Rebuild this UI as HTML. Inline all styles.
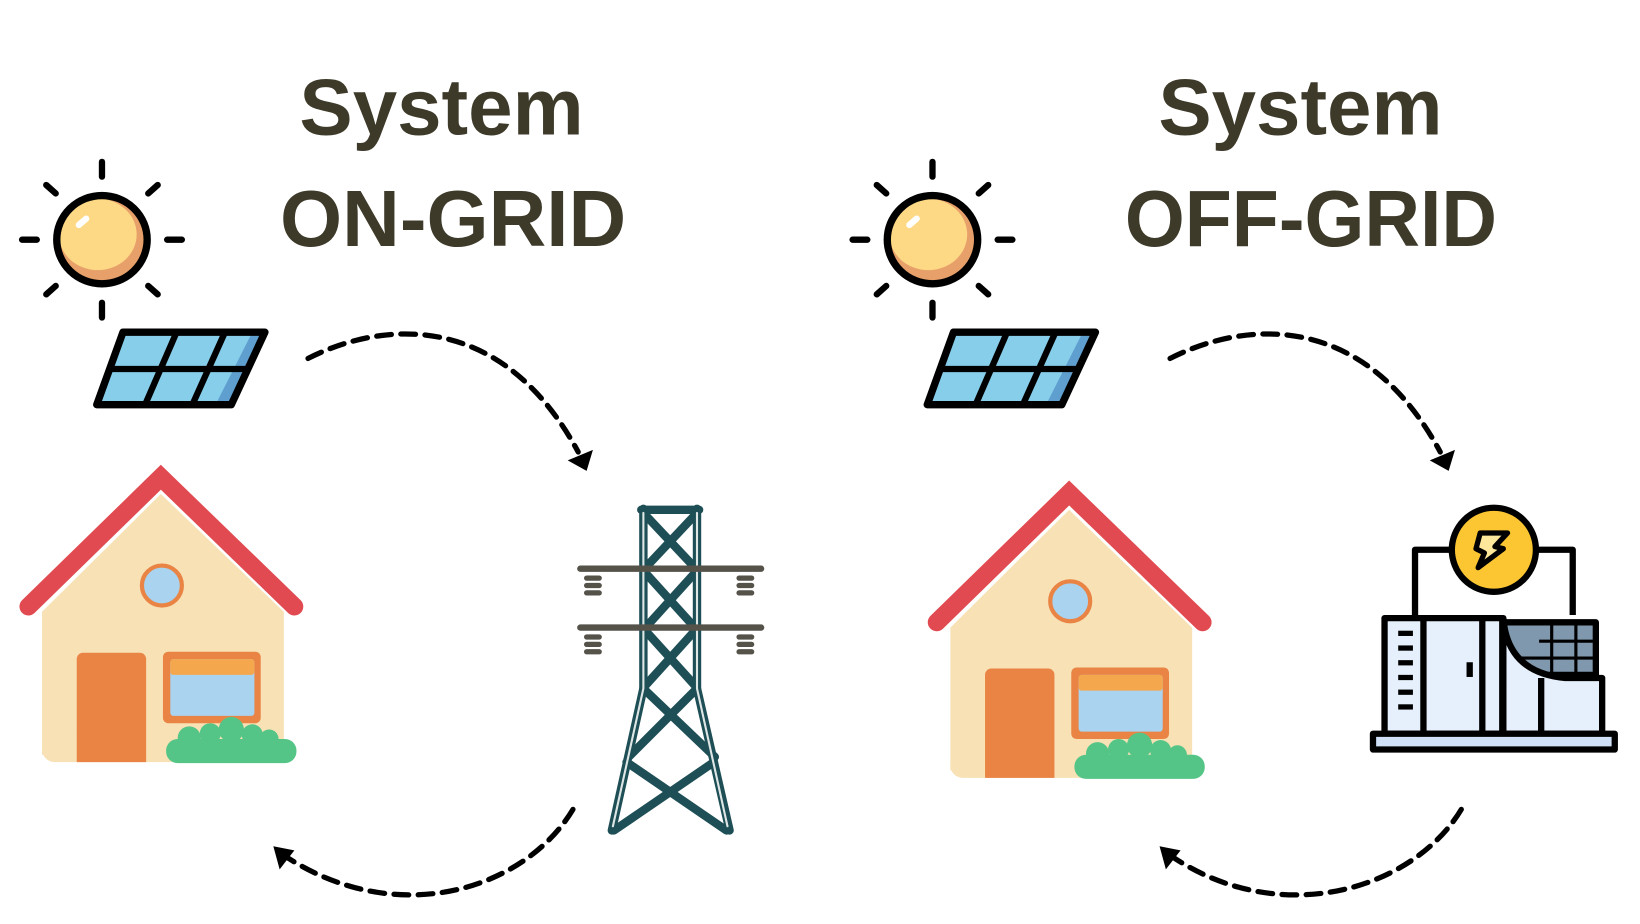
<!DOCTYPE html>
<html><head><meta charset="utf-8"><style>
html,body{margin:0;padding:0;background:#fff;}
svg{display:block}
</style></head><body>
<svg width="1640" height="924" viewBox="0 0 1560 879" preserveAspectRatio="none" xmlns="http://www.w3.org/2000/svg">
<defs>
<g id="sun">
  <g stroke="#000" stroke-width="6" stroke-linecap="round">
    <line x1="0" y1="-74" x2="0" y2="-60"/><line x1="0" y1="60" x2="0" y2="74"/>
    <line x1="-76" y1="0" x2="-62" y2="0"/><line x1="62" y1="0" x2="76" y2="0"/>
    <line x1="-53" y1="-52" x2="-44" y2="-44"/><line x1="53" y1="-52" x2="44" y2="-44"/>
    <line x1="-53" y1="52" x2="-44" y2="44"/><line x1="53" y1="52" x2="44" y2="44"/>
  </g>
  <ellipse cx="0" cy="0" rx="43" ry="42" fill="#e8a06a"/>
  <ellipse cx="-4" cy="-5" rx="37" ry="34" fill="#fdd885"/>
  <ellipse cx="0" cy="0" rx="43" ry="42" fill="none" stroke="#000" stroke-width="7"/>
  <line x1="-22" y1="-14" x2="-15" y2="-20" stroke="#fff" stroke-width="6" stroke-linecap="round"/>
</g>
<g id="panel">
  <polygon points="117,316 252,316 220,385 92,385" fill="#87ceeb"/>
  <polygon points="240,316 252,316 220,385 205,385" fill="#5f9fcf"/>
  <polygon points="117,316 252,316 220,385 92,385" fill="none" stroke="#000" stroke-width="7" stroke-linejoin="round"/>
  <g stroke="#000" stroke-width="6">
    <line x1="104" y1="351" x2="238" y2="351"/>
    <line x1="168" y1="316" x2="138" y2="385"/>
    <line x1="214" y1="316" x2="183" y2="385"/>
  </g>
</g>
<g id="house">
  <polygon points="40,582 153,470 270,582 270,718 40,718" fill="#f7e1b5"/>
  <rect x="40" y="700" width="230" height="25" rx="12" fill="#f7e1b5"/>
  <polyline points="27,577 153,454 280,577" fill="none" stroke="#e04a50" stroke-width="17" stroke-linejoin="miter" stroke-linecap="round"/>
  <path d="M73,725 V627 a6,6 0 0 1 6,-6 H133 a6,6 0 0 1 6,6 V725 Z" fill="#e98445"/>
  <rect x="155" y="620" width="93" height="68" rx="5" fill="#e98445"/>
  <rect x="162" y="627" width="80" height="54" rx="3" fill="#a9d3ee"/>
  <rect x="162" y="627" width="80" height="15" rx="3" fill="#f5a74e"/>
  <circle cx="154" cy="557" r="19" fill="#a9d3ee" stroke="#e98445" stroke-width="4"/>
  <g fill="#55c587">
    <rect x="158" y="703" width="124" height="23" rx="11"/>
    <circle cx="180" cy="702" r="11"/><circle cx="200" cy="698" r="10"/><circle cx="220" cy="694" r="12"/>
    <circle cx="240" cy="699" r="10"/><circle cx="256" cy="703" r="9"/>
  </g>
</g>
</defs>

<!-- LEFT -->
<text x="420" y="128" text-anchor="middle" font-family="Liberation Sans, sans-serif" font-weight="bold" font-size="76" fill="#3d3a2a">System</text>
<text x="431" y="234" text-anchor="middle" font-family="Liberation Sans, sans-serif" font-weight="bold" font-size="76" fill="#3d3a2a">ON-GRID</text>
<use href="#sun" transform="translate(97,228)"/>
<use href="#panel"/>
<use href="#house"/>

<!-- tower -->
<g stroke-linecap="round" stroke-linejoin="round" fill="none">
  <g stroke="#1f4f56" stroke-width="8">
    <path d="M612,484 V655 L582,790 M663,484 V655 L694,790 M610,485 H665"/>
    <path d="M614,490 L661,540 M661,490 L614,540 M614,545 L661,597 M661,545 L614,597 M614,600 L661,652 M661,600 L614,652 M612,655 L680,720 M663,655 L598,720 M596,725 L691,790 M679,725 L584,790"/>
  </g>
  <g stroke="#dfe7e6" stroke-width="2">
    <path d="M612,488 V655 L583,786 M663,488 V655 L692,786"/>
  </g>
  <g stroke="#55524a" stroke-width="6">
    <line x1="552" y1="541" x2="724" y2="541"/>
    <line x1="552" y1="597" x2="724" y2="597"/>
  </g>
  <g stroke="#55524a" stroke-width="5">
    <path d="M558,550 h12 M558,557 h12 M558,564 h12 M703,550 h12 M703,557 h12 M703,564 h12"/>
    <path d="M558,606 h12 M558,613 h12 M558,620 h12 M703,606 h12 M703,613 h12 M703,620 h12"/>
  </g>
</g>

<!-- arrows left -->
<g fill="none" stroke="#000" stroke-width="5" stroke-dasharray="14 9" stroke-linecap="round">
  <path d="M293,341 C370,302 480,300 550,430"/>
  <path d="M545,770 C500,845 380,885 272,815"/>
</g>
<polygon points="540,438 564,428 558,448" fill="#000"/>
<polygon points="260,805 280,809 266,827" fill="#000"/>

<!-- RIGHT -->
<text x="1237" y="128" text-anchor="middle" font-family="Liberation Sans, sans-serif" font-weight="bold" font-size="76" fill="#3d3a2a">System</text>
<text x="1247" y="234" text-anchor="middle" font-family="Liberation Sans, sans-serif" font-weight="bold" font-size="76" fill="#3d3a2a" textLength="354" lengthAdjust="spacingAndGlyphs">OFF-GRID</text>
<use href="#sun" transform="translate(887,228)"/>
<use href="#panel" transform="translate(790,0)"/>
<use href="#house" transform="translate(864,15)"/>

<!-- off-grid device -->
<g transform="translate(-6,0)">
<g stroke="#000" stroke-width="6" stroke-linejoin="round">
  <path d="M1390,523 H1352 V585 M1465,523 H1502 V585" fill="none"/>
  <rect x="1436" y="592" width="88" height="50" fill="#7f98ad"/>
  <rect x="1323" y="588" width="112" height="110" fill="#e6f0fc"/>
  <line x1="1360" y1="588" x2="1360" y2="698"/>
  <line x1="1416" y1="588" x2="1416" y2="698"/>
  <path d="M1436,588 Q1440,640 1495,645 H1530 V698 H1436 Z" fill="#e6f0fc"/>
  <line x1="1472" y1="645" x2="1472" y2="698"/>
  <rect x="1312" y="698" width="230" height="15" fill="#cfe0f7"/>
  <circle cx="1427" cy="523" r="40" fill="#fcc532"/>
</g>
<g fill="#000">
  <rect x="1336" y="600" width="14" height="5"/><rect x="1336" y="614" width="14" height="5"/>
  <rect x="1336" y="628" width="14" height="5"/><rect x="1336" y="642" width="14" height="5"/>
  <rect x="1336" y="656" width="14" height="5"/><rect x="1336" y="670" width="14" height="5"/>
  <rect x="1401" y="630" width="6" height="14"/>
</g>
<g stroke="#000" stroke-width="3">
  <line x1="1470" y1="610" x2="1524" y2="610"/><line x1="1450" y1="626" x2="1524" y2="626"/>
  <line x1="1482" y1="592" x2="1482" y2="642"/><line x1="1505" y1="592" x2="1505" y2="642"/>
</g>
<path d="M1414,507 L1440,507 L1428,520 L1436,522 L1412,540 L1418,526 L1410,522 Z" fill="#fde79a" stroke="#000" stroke-width="5" stroke-linejoin="round"/>
</g>

<!-- arrows right -->
<g fill="none" stroke="#000" stroke-width="5" stroke-dasharray="14 9" stroke-linecap="round">
  <path d="M1113,341 C1190,302 1300,300 1370,430"/>
  <path d="M1390,770 C1345,845 1220,885 1115,815"/>
</g>
<polygon points="1360,438 1384,428 1378,448" fill="#000"/>
<polygon points="1103,805 1123,809 1109,827" fill="#000"/>
</svg>
</body></html>
